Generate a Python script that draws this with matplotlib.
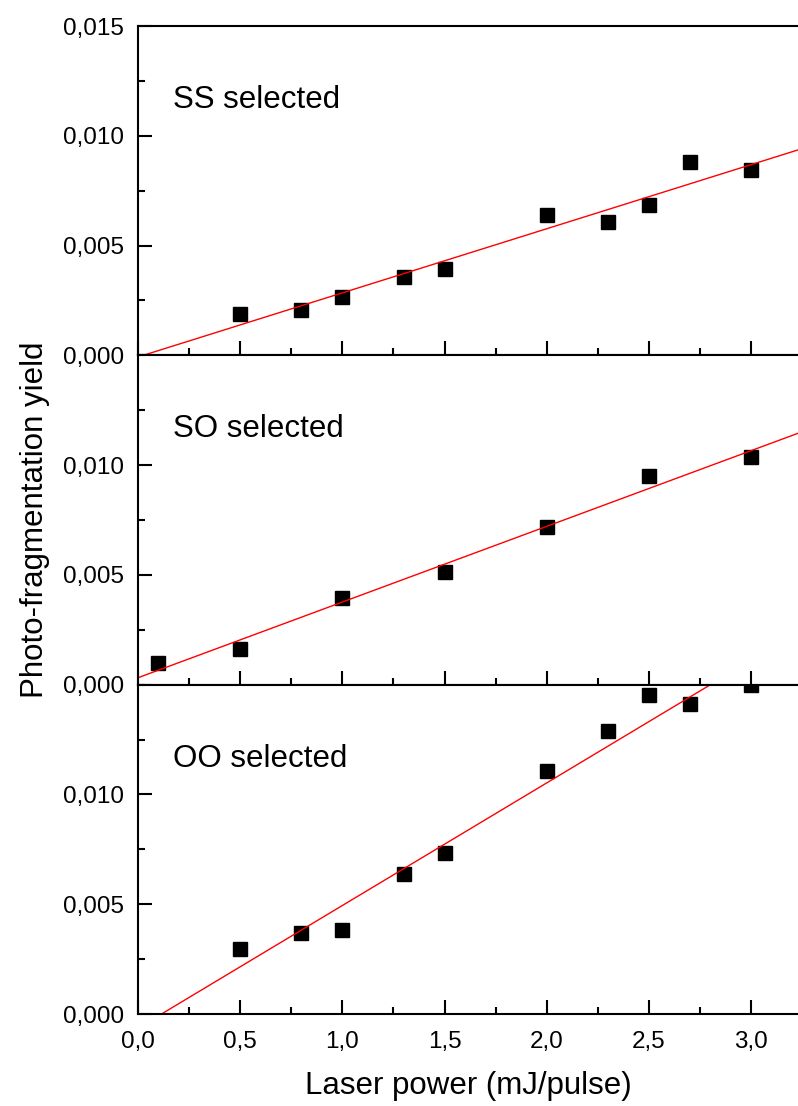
import numpy as np
import matplotlib
matplotlib.use("Agg")
import matplotlib.pyplot as plt
from matplotlib.ticker import MultipleLocator, FuncFormatter

plt.rcParams['font.family'] = ['Liberation Sans', 'DejaVu Sans']

# SS selected
ss_x = [0.5, 0.8, 1.0, 1.3, 1.5, 2.0, 2.3, 2.5, 2.7, 3.0]
ss_y = [0.00190, 0.00208, 0.00265, 0.00359, 0.00391, 0.00638, 0.00606, 0.00683, 0.00882, 0.00842]

# SO selected
so_x = [0.1, 0.5, 1.0, 1.5, 2.0, 2.5, 3.0]
so_y = [0.00099, 0.00164, 0.00394, 0.00511, 0.00718, 0.00950, 0.01039]

# OO selected
oo_x = [0.5, 0.8, 1.0, 1.3, 1.5, 2.0, 2.3, 2.5, 2.7, 3.0]
oo_y = [0.00294, 0.00367, 0.00382, 0.00639, 0.00733, 0.01109, 0.01291, 0.01455, 0.01414, 0.01500]

panel_names = ["SS selected", "SO selected", "OO selected"]
xs_all = [ss_x, so_x, oo_x]
ys_all = [ss_y, so_y, oo_y]

fig = plt.figure(figsize=(7.98, 11.06), dpi=100)
gs = fig.add_gridspec(3, 1, left=138/798, right=1.0, top=1-26/1106, bottom=1-1014/1106, hspace=0)

fmt_y = FuncFormatter(lambda v, p: f"{v:.3f}".replace(".", ","))
fmt_x = FuncFormatter(lambda v, p: f"{v:.1f}".replace(".", ","))

xline = np.array([0.0, 3.3])
for i in range(3):
    ax = fig.add_subplot(gs[i])
    ax.plot(xs_all[i], ys_all[i], 's', color='black', markersize=10)
    # linear fit (red line)
    k, b = np.polyfit(xs_all[i], ys_all[i], 1)
    ax.plot(xline, k * xline + b, color='red', lw=1)
    ax.set_xlim(0, 3.23)
    ax.set_ylim(0, 0.015)
    ax.text(0.053, 0.775, panel_names[i], transform=ax.transAxes, fontsize=22.5, va='center', ha='left')

    ax.xaxis.set_major_locator(MultipleLocator(0.5))
    ax.xaxis.set_minor_locator(MultipleLocator(0.25))
    ax.xaxis.set_major_formatter(fmt_x)
    if i == 0:
        ax.set_yticks([0, 0.005, 0.010, 0.015])
    else:
        ax.set_yticks([0, 0.005, 0.010])
    ax.yaxis.set_minor_locator(MultipleLocator(0.0025))
    ax.yaxis.set_major_formatter(fmt_y)

    ax.tick_params(which='both', direction='in', width=1.5, top=False, right=False)
    ax.tick_params(which='major', length=10)
    ax.tick_params(which='minor', length=5)
    ax.tick_params(axis='y', labelsize=17.5, pad=10)
    ax.tick_params(axis='x', labelsize=17.5, pad=12)
    if i < 2:
        ax.tick_params(axis='x', labelbottom=False)
    for s in ['left', 'bottom', 'top']:
        ax.spines[s].set_linewidth(1.5)
    ax.spines['right'].set_visible(False)
    if i == 2:
        ax.set_xlabel("Laser power (mJ/pulse)", fontsize=22.5, labelpad=13)

fig.text(0.044, (1 - 520/1106), "Photo-fragmentation yield", rotation=90, fontsize=22.5, ha='center', va='center')

fig.savefig("out.png", dpi=100)
